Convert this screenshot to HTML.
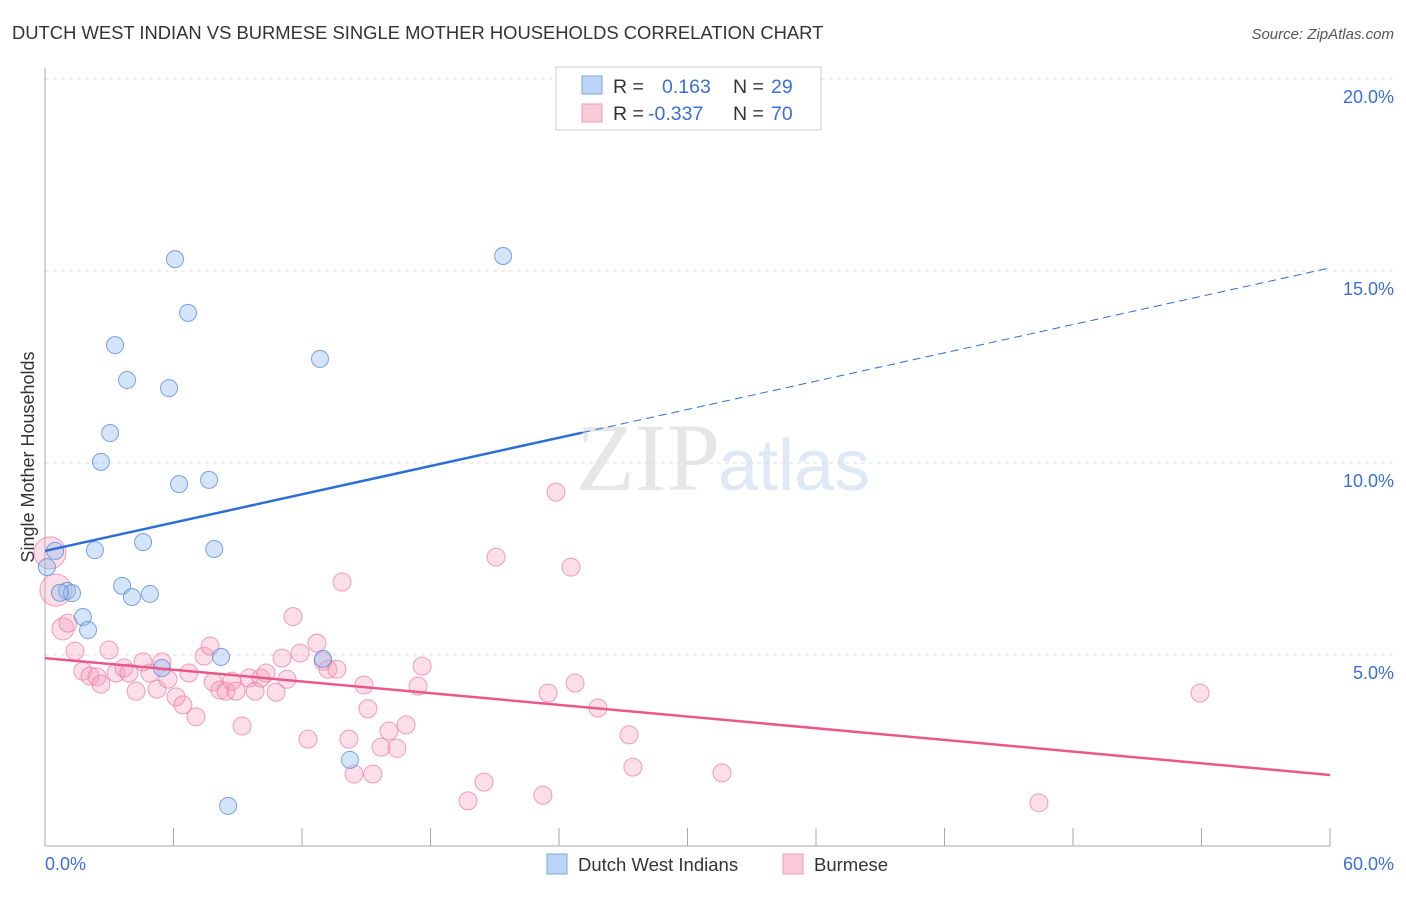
<!DOCTYPE html>
<html><head><meta charset="utf-8"><style>
body{margin:0;background:#fff;font-family:"Liberation Sans",sans-serif}
</style></head><body>
<svg id="chart" width="1406" height="892" xmlns="http://www.w3.org/2000/svg">
<text x="12" y="39" font-size="18.4" fill="#333">DUTCH WEST INDIAN VS BURMESE SINGLE MOTHER HOUSEHOLDS CORRELATION CHART</text>
<text x="1394" y="39" font-size="15" fill="#555" font-style="italic" text-anchor="end">Source: ZipAtlas.com</text>
<text x="720" y="490" font-size="96" fill="#e6e6e6" font-family="Liberation Serif" text-anchor="end">ZIP</text>
<text x="718" y="490" font-size="72" fill="#dfe8f5">atlas</text>
<g id="grid"></g>
<line x1="45" y1="68" x2="45" y2="846" stroke="#aaa"/>
<line x1="45" y1="846" x2="1330" y2="846" stroke="#aaa"/>
<text transform="translate(34,457) rotate(-90)" font-size="18" fill="#333" text-anchor="middle">Single Mother Households</text>
<text x="45" y="870" font-size="18" fill="#3a6fd8">0.0%</text>
<text x="1394" y="870" font-size="18" fill="#3a6fd8" text-anchor="end">60.0%</text>
<g id="pts"></g>
<g id="lines"></g>
<g>
<rect x="556" y="67" width="265" height="63" fill="#fff" stroke="#ccc"/>
<rect x="582" y="76" width="20" height="18" fill="#bcd4f6" stroke="#7aa7e6"/>
<rect x="582" y="104" width="20" height="18" fill="#fbcbda" stroke="#ee9ab5"/>
<text x="613" y="93" font-size="19.5" fill="#333">R =</text>
<text x="662" y="93" font-size="19.5" fill="#3a6fd8">0.163</text>
<text x="733" y="93" font-size="19.5" fill="#333">N =</text>
<text x="771" y="93" font-size="19.5" fill="#3a6fd8">29</text>
<text x="613" y="120" font-size="19.5" fill="#333">R =</text>
<text x="648" y="120" font-size="19.5" fill="#3a6fd8">-0.337</text>
<text x="733" y="120" font-size="19.5" fill="#333">N =</text>
<text x="771" y="120" font-size="19.5" fill="#3a6fd8">70</text>
</g>
<g>
<rect x="547" y="854" width="20" height="20" fill="#bcd4f6" stroke="#7aa7e6"/>
<text x="578" y="871" font-size="18.5" fill="#333">Dutch West Indians</text>
<rect x="783" y="854" width="20" height="20" fill="#fbcbda" stroke="#ee9ab5"/>
<text x="814" y="871" font-size="18.5" fill="#333">Burmese</text>
</g>
</svg>
<script>
const yTicks=[5,10,15,20];
const xTicksCount=10;
const blueX=[0.47,0.09,2.33,1.03,1.26,1.77,2.01,3.27,3.83,3.04,2.61,4.58,3.6,4.06,4.9,5.46,6.07,6.68,5.79,6.26,7.66,7.9,8.22,8.55,12.84,12.98,14.24,21.39,0.7];
const blueY=[7.71,7.29,7.73,6.67,6.61,5.99,5.65,13.07,12.16,10.78,10.03,7.94,6.8,6.51,6.59,4.66,15.31,13.91,11.95,9.45,9.56,7.76,4.95,1.07,12.71,4.9,2.27,15.39,6.62];
const pinkX=[0.23,0.51,0.84,1.07,1.4,1.77,2.1,2.43,2.61,2.99,3.32,3.69,3.92,4.25,4.58,4.9,5.23,5.46,5.74,6.12,6.44,6.72,7.05,7.43,7.71,7.85,8.17,8.45,8.73,8.92,9.2,9.53,9.81,10.09,10.32,10.79,11.07,11.3,11.58,11.91,12.28,12.7,12.98,13.21,13.63,13.87,14.19,14.43,14.89,15.08,15.31,15.69,16.06,16.43,16.86,17.42,17.61,19.75,20.5,21.06,23.25,23.49,23.86,24.56,24.75,25.82,27.27,27.45,31.61,46.41,53.93];
const pinkY=[7.66,6.69,5.68,5.83,5.1,4.58,4.45,4.43,4.24,5.13,4.53,4.66,4.53,4.06,4.82,4.53,4.11,4.82,4.37,3.91,3.7,4.53,3.39,4.97,5.23,4.3,4.09,4.06,4.32,4.06,3.15,4.4,4.06,4.4,4.53,4.03,4.92,4.37,6.0,5.05,2.81,5.31,4.84,4.63,4.63,6.9,2.81,1.9,4.22,3.6,1.9,2.6,3.02,2.57,3.18,4.19,4.71,1.2,1.69,7.55,1.35,4.01,9.24,7.29,4.27,3.62,2.92,2.08,1.93,1.15,4.01];
const blueLine=[7.71,15.08], blueSolidEnd=25.1;
const pinkLine=[4.92,1.875];
const X=v=>45+v/60*1285, Y=v=>847-v*38.4;
const NS='http://www.w3.org/2000/svg';
function mk(t,a,p){const e=document.createElementNS(NS,t);for(const k in a)e.setAttribute(k,a[k]);p.appendChild(e);return e;}
const grid=document.getElementById('grid');
yTicks.forEach(t=>{
 const l=mk('line',{x1:45,x2:1395,y1:Y(t),y2:Y(t),stroke:'#ddd','stroke-dasharray':'4,4'},grid);
 
 
 const tx=mk('text',{x:1394,y:Y(t)+24,'font-size':18,fill:'#3a6fd8','text-anchor':'end'},grid);
 tx.textContent=t.toFixed(1)+'%';
 
 
});
for(let i=0;i<=xTicksCount;i++){
 const l=mk('line',{x1:X(i*6),x2:X(i*6),y1:828,y2:846,stroke:'#aaa'},grid);
 
 
}
const pts=document.getElementById('pts');
pinkX.forEach((x,i)=>{
 const r=i<2?16:(i<3?11:9);
 const c=mk('circle',{cx:X(x),cy:Y(pinkY[i]),r:r,fill:'rgba(246,160,190,0.35)',stroke:'rgba(232,120,160,0.7)','stroke-width':1},pts);
 
 
});
blueX.forEach((x,i)=>{
 const c=mk('circle',{cx:X(x),cy:Y(blueY[i]),r:8.5,fill:'rgba(150,190,240,0.4)',stroke:'rgba(90,140,220,0.8)','stroke-width':1},pts);
 
 
});
const lg=document.getElementById('lines');
const by=x=>blueLine[0]+(blueLine[1]-blueLine[0])*x/60;
let l=mk('line',{x1:X(0),y1:Y(by(0)),x2:X(blueSolidEnd),y2:Y(by(blueSolidEnd)),stroke:'#2b6fd6','stroke-width':2.5},lg);


l=mk('line',{x1:X(blueSolidEnd),y1:Y(by(blueSolidEnd)),x2:X(60),y2:Y(by(60)),stroke:'#2b6fd6','stroke-width':1,'stroke-dasharray':'8,5'},lg);


l=mk('line',{x1:X(0),y1:Y(pinkLine[0]),x2:X(60),y2:Y(pinkLine[1]),stroke:'#e8588a','stroke-width':2.5},lg);


</script>
</body></html>
